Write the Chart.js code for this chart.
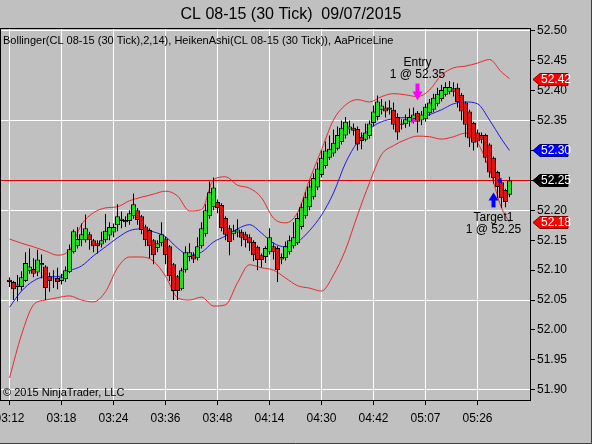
<!DOCTYPE html>
<html>
<head>
<meta charset="utf-8">
<script src="https://cdn.jsdelivr.net/npm/chart.js@4.4.0/dist/chart.umd.min.js"></script>
<style>
  html, body { margin: 0; padding: 0; background: #c0c0c0; }
  #wrap { width: 592px; height: 444px; }
</style>
</head>
<body>
<div id="wrap"><canvas id="chart" width="592" height="444"></canvas></div>
<script>
// Heiken Ashi bars (CL 08-15, 30 tick)
const barOpen = [
  52.084, 52.080, 52.072, 52.072, 52.082, 52.098, 52.102, 52.096, 52.108, 52.106,
  52.090, 52.086, 52.087, 52.082, 52.085, 52.097, 52.130, 52.140, 52.150, 52.150,
  52.160, 52.150, 52.145, 52.143, 52.150, 52.158, 52.163, 52.175, 52.182, 52.184,
  52.182, 52.190, 52.200, 52.190, 52.173, 52.167, 52.150, 52.137, 52.145, 52.153,
  52.140, 52.110, 52.090, 52.068, 52.100, 52.122, 52.125, 52.120, 52.140, 52.160,
  52.190, 52.205, 52.214, 52.209, 52.187, 52.170, 52.160, 52.163, 52.164, 52.160,
  52.155, 52.147, 52.139, 52.125, 52.122, 52.130, 52.140, 52.137, 52.118, 52.120,
  52.130, 52.140, 52.145, 52.172, 52.190, 52.205, 52.222, 52.238, 52.259, 52.274,
  52.288, 52.295, 52.303, 52.314, 52.325, 52.335, 52.338, 52.336, 52.323, 52.318,
  52.324, 52.346, 52.356, 52.368, 52.372, 52.368, 52.368, 52.356, 52.343, 52.344,
  52.348, 52.352, 52.363, 52.350, 52.352, 52.362, 52.368, 52.378, 52.386, 52.393,
  52.398, 52.404, 52.405, 52.393, 52.380, 52.365, 52.346, 52.330, 52.326, 52.326,
  52.310, 52.288, 52.264, 52.247, 52.234, 52.226
];
const barClose = [
  52.080, 52.068, 52.076, 52.088, 52.112, 52.106, 52.094, 52.118, 52.112, 52.070,
  52.082, 52.085, 52.080, 52.088, 52.100, 52.135, 52.165, 52.152, 52.160, 52.170,
  52.150, 52.140, 52.140, 52.150, 52.166, 52.172, 52.172, 52.190, 52.186, 52.180,
  52.195, 52.210, 52.184, 52.167, 52.150, 52.140, 52.125, 52.145, 52.160, 52.125,
  52.090, 52.065, 52.065, 52.100, 52.130, 52.130, 52.118, 52.140, 52.170, 52.200,
  52.230, 52.238, 52.204, 52.170, 52.159, 52.147, 52.166, 52.168, 52.154, 52.150,
  52.145, 52.125, 52.117, 52.117, 52.137, 52.155, 52.130, 52.100, 52.122, 52.140,
  52.150, 52.155, 52.187, 52.205, 52.222, 52.240, 52.254, 52.270, 52.288, 52.300,
  52.303, 52.313, 52.326, 52.338, 52.348, 52.340, 52.333, 52.310, 52.316, 52.330,
  52.345, 52.365, 52.382, 52.375, 52.365, 52.372, 52.343, 52.330, 52.345, 52.352,
  52.356, 52.360, 52.348, 52.360, 52.373, 52.380, 52.388, 52.395, 52.401, 52.406,
  52.406, 52.398, 52.381, 52.365, 52.343, 52.320, 52.313, 52.315, 52.318, 52.288,
  52.263, 52.254, 52.239, 52.220, 52.214, 52.250
];
const barHigh = [
  52.088, 52.082, 52.092, 52.098, 52.130, 52.136, 52.120, 52.134, 52.126, 52.108,
  52.096, 52.100, 52.104, 52.094, 52.106, 52.143, 52.168, 52.172, 52.178, 52.193,
  52.164, 52.152, 52.150, 52.164, 52.194, 52.180, 52.178, 52.210, 52.198, 52.190,
  52.200, 52.228, 52.204, 52.192, 52.176, 52.170, 52.152, 52.150, 52.180, 52.156,
  52.142, 52.112, 52.092, 52.104, 52.140, 52.145, 52.130, 52.155, 52.180, 52.210,
  52.248, 52.255, 52.218, 52.212, 52.190, 52.175, 52.176, 52.185, 52.168, 52.164,
  52.160, 52.150, 52.141, 52.128, 52.140, 52.170, 52.146, 52.140, 52.128, 52.148,
  52.158, 52.180, 52.195, 52.212, 52.230, 52.250, 52.262, 52.280, 52.300, 52.315,
  52.325, 52.335, 52.340, 52.350, 52.356, 52.350, 52.345, 52.340, 52.330, 52.345,
  52.350, 52.375, 52.392, 52.386, 52.382, 52.384, 52.380, 52.362, 52.352, 52.360,
  52.370, 52.372, 52.366, 52.366, 52.378, 52.386, 52.395, 52.405, 52.410, 52.414,
  52.416, 52.414, 52.412, 52.396, 52.382, 52.368, 52.348, 52.335, 52.330, 52.328,
  52.312, 52.290, 52.266, 52.250, 52.236, 52.256
];
const barLow = [
  52.072, 52.050, 52.048, 52.066, 52.080, 52.094, 52.088, 52.090, 52.086, 52.050,
  52.064, 52.070, 52.068, 52.076, 52.080, 52.095, 52.128, 52.136, 52.140, 52.146,
  52.134, 52.130, 52.128, 52.138, 52.146, 52.150, 52.155, 52.165, 52.170, 52.172,
  52.176, 52.186, 52.176, 52.160, 52.140, 52.120, 52.110, 52.130, 52.140, 52.110,
  52.082, 52.050, 52.050, 52.066, 52.096, 52.115, 52.112, 52.116, 52.136, 52.156,
  52.186, 52.200, 52.195, 52.165, 52.150, 52.125, 52.150, 52.155, 52.140, 52.138,
  52.132, 52.115, 52.100, 52.105, 52.112, 52.126, 52.118, 52.080, 52.110, 52.116,
  52.126, 52.136, 52.142, 52.168, 52.186, 52.200, 52.218, 52.234, 52.255, 52.270,
  52.284, 52.290, 52.300, 52.310, 52.320, 52.328, 52.325, 52.300, 52.302, 52.315,
  52.320, 52.340, 52.350, 52.360, 52.355, 52.360, 52.335, 52.318, 52.335, 52.338,
  52.340, 52.345, 52.330, 52.342, 52.348, 52.358, 52.364, 52.374, 52.382, 52.390,
  52.394, 52.390, 52.372, 52.350, 52.322, 52.306, 52.300, 52.305, 52.312, 52.280,
  52.255, 52.245, 52.220, 52.204, 52.205, 52.222
];

// Bollinger(2,14) read at every third bar
const bandBars = [0, 3, 6, 9, 12, 15, 18, 21, 24, 27, 30, 33, 36, 39, 42, 45, 48, 51, 54, 57,
  60, 63, 66, 69, 72, 75, 78, 81, 84, 87, 90, 93, 96, 99, 102, 105, 108, 111, 114, 117, 120, 123, 125];
const bandUpper = [52.152, 52.145, 52.139, 52.132, 52.125, 52.134, 52.176, 52.196, 52.204, 52.206,
  52.216, 52.222, 52.227, 52.232, 52.224, 52.199, 52.201, 52.251, 52.256, 52.242,
  52.237, 52.221, 52.187, 52.179, 52.196, 52.251, 52.301, 52.351, 52.376, 52.385,
  52.381, 52.390, 52.395, 52.393, 52.390, 52.401, 52.426, 52.438, 52.441, 52.446,
  52.452, 52.431, 52.420];
const bandMiddle = [52.038, 52.065, 52.082, 52.089, 52.089, 52.099, 52.107, 52.124, 52.139, 52.154,
  52.166, 52.169, 52.164, 52.156, 52.137, 52.125, 52.130, 52.147, 52.157, 52.169,
  52.176, 52.162, 52.145, 52.139, 52.147, 52.166, 52.192, 52.229, 52.279, 52.314,
  52.336, 52.348, 52.353, 52.355, 52.353, 52.360, 52.368, 52.378, 52.381, 52.378,
  52.351, 52.319, 52.300];
const bandLower = [51.920, 51.992, 52.042, 52.050, 52.054, 52.057, 52.050, 52.047, 52.064, 52.104,
  52.122, 52.122, 52.115, 52.090, 52.054, 52.050, 52.055, 52.040, 52.042, 52.079,
  52.109, 52.104, 52.100, 52.087, 52.074, 52.070, 52.065, 52.092, 52.134, 52.192,
  52.246, 52.293, 52.308, 52.318, 52.324, 52.323, 52.319, 52.323, 52.329, 52.313,
  52.268, 52.204, 52.180];

// axis labels
const timeLabels = ['03:12', '03:18', '03:24', '03:36', '03:48', '04:14', '04:30', '04:42', '05:07', '05:26'];
const timeBars = [0, 13, 26, 39, 52, 65, 78, 91, 104, 117];
const priceTicks = [51.90, 51.95, 52.00, 52.05, 52.10, 52.15, 52.20, 52.25, 52.30, 52.35, 52.40, 52.45, 52.50];
const priceGrid = [51.90, 52.05, 52.20, 52.35, 52.50];

// executions
const entryMark = { bar: 102, price: 52.35, name: 'Entry', fill: '1 @ 52.35' };
const targetMark = { bar: 121, price: 52.25, name: 'Target1', fill: '1 @ 52.25' };

const FONT = "'Liberation Sans', Arial, sans-serif";
const UP = '#1ee21e';
const DOWN = '#dc1414';

const barIdx = barOpen.map((v, i) => i);

function bandData(vals) {
    return bandBars.map((b, i) => ({ x: b, y: vals[i] }));
}

const ninjaExtras = {
    id: 'ninjaExtras',
    beforeDraw(chart) {
        const ctx = chart.ctx;
        ctx.save();
        ctx.fillStyle = '#c0c0c0';
        ctx.fillRect(0, 0, chart.width, chart.height);
        ctx.restore();
    },
    beforeDatasetsDraw(chart) {
        // price line at last close
        const ctx = chart.ctx, a = chart.chartArea;
        const y = Math.round(chart.scales.y.getPixelForValue(barClose[barClose.length - 1])) + 0.5;
        ctx.save();
        ctx.strokeStyle = '#d80000';
        ctx.lineWidth = 1;
        ctx.beginPath();
        ctx.moveTo(a.left, y);
        ctx.lineTo(a.right, y);
        ctx.stroke();
        ctx.restore();
    },
    afterDraw(chart) {
        const ctx = chart.ctx, a = chart.chartArea;
        const xs = chart.scales.x, ys = chart.scales.y;
        ctx.save();

        // frame
        ctx.strokeStyle = '#000';
        ctx.lineWidth = 1;
        ctx.strokeRect(a.left - 0.5, a.top - 0.5, a.right - a.left + 1, a.bottom - a.top + 1);
        ctx.strokeStyle = '#404040';
        ctx.beginPath();
        ctx.moveTo(chart.width - 0.5, 0);
        ctx.lineTo(chart.width - 0.5, chart.height - 0.5);
        ctx.lineTo(0, chart.height - 0.5);
        ctx.stroke();

        // texts
        ctx.fillStyle = '#000';
        ctx.textBaseline = 'middle';
        ctx.textAlign = 'center';
        ctx.font = '16px ' + FONT;
        ctx.fillText('CL 08-15 (30 Tick)  09/07/2015', 291, 15);
        ctx.textAlign = 'left';
        ctx.font = '11px ' + FONT;
        ctx.fillText('Bollinger(CL 08-15 (30 Tick),2,14), HeikenAshi(CL 08-15 (30 Tick)), AaPriceLine', a.left + 2, a.top + 12);
        ctx.fillText('\u00A9 2015 NinjaTrader, LLC', a.left + 2, a.bottom - 7);

        // entry marker
        let bx = xs.getPixelForValue(entryMark.bar), py = ys.getPixelForValue(entryMark.price);
        ctx.fillStyle = '#ff00ff';
        ctx.fillRect(bx - 2, py - 37, 4, 9);
        ctx.beginPath();
        ctx.moveTo(bx - 5, py - 29);
        ctx.lineTo(bx + 5, py - 29);
        ctx.lineTo(bx, py - 20);
        ctx.closePath();
        ctx.fill();
        ctx.beginPath();
        ctx.moveTo(bx - 6, py - 3);
        ctx.lineTo(bx - 1, py);
        ctx.lineTo(bx - 6, py + 3);
        ctx.closePath();
        ctx.fill();
        ctx.fillStyle = '#000';
        ctx.textAlign = 'center';
        ctx.font = '12px ' + FONT;
        ctx.fillText(entryMark.name, bx, py - 58);
        ctx.fillText(entryMark.fill, bx, py - 46);

        // target marker
        bx = xs.getPixelForValue(targetMark.bar);
        py = ys.getPixelForValue(targetMark.price);
        ctx.fillStyle = '#0000ff';
        ctx.beginPath();
        ctx.moveTo(bx, py + 12);
        ctx.lineTo(bx + 5, py + 20);
        ctx.lineTo(bx - 5, py + 20);
        ctx.closePath();
        ctx.fill();
        ctx.fillRect(bx - 2, py + 19, 4, 8);
        ctx.beginPath();
        ctx.moveTo(bx + 8, py - 3);
        ctx.lineTo(bx + 3, py);
        ctx.lineTo(bx + 8, py + 3);
        ctx.closePath();
        ctx.fill();
        ctx.fillStyle = '#000';
        ctx.fillText(targetMark.name, bx, py + 37);
        ctx.fillText(targetMark.fill, bx, py + 49);

        // price tags on the axis
        const tags = [
            [bandUpper[bandUpper.length - 1], '#ff0000', '#800000'],
            [bandMiddle[bandMiddle.length - 1], '#0000ff', '#000080'],
            [barClose[barClose.length - 1], '#000000', '#000000'],
            [bandLower[bandLower.length - 1], '#ff0000', '#800000']
        ];
        ctx.font = '12px ' + FONT;
        ctx.textAlign = 'left';
        tags.forEach(([v, fill, edge]) => {
            const y = Math.round(ys.getPixelForValue(v)) + 0.5;
            const x0 = a.right + 3;
            ctx.beginPath();
            ctx.moveTo(x0, y);
            ctx.lineTo(x0 + 7, y - 6);
            ctx.lineTo(x0 + 35, y - 6);
            ctx.lineTo(x0 + 35, y + 6);
            ctx.lineTo(x0 + 7, y + 6);
            ctx.closePath();
            ctx.fillStyle = fill;
            ctx.fill();
            ctx.strokeStyle = edge;
            ctx.stroke();
            ctx.fillStyle = '#fff';
            ctx.fillText(v.toFixed(2), x0 + 8, y + 0.5);
        });
        ctx.restore();
    }
};

new Chart(document.getElementById('chart'), {
    type: 'bar',
    data: {
        datasets: [
            {
                label: 'HA body',
                data: barIdx.map(i => ({ x: i, y: [barOpen[i], barClose[i]] })),
                backgroundColor: barIdx.map(i => barClose[i] >= barOpen[i] ? UP : DOWN),
                borderColor: '#000',
                borderWidth: 1,
                borderSkipped: false,
                barThickness: 5,
                inflateAmount: 0,
                grouped: false,
                order: 0
            },
            {
                label: 'HA wick',
                data: barIdx.map(i => ({ x: i, y: [barLow[i], barHigh[i]] })),
                backgroundColor: '#000',
                borderWidth: 0,
                barThickness: 1,
                inflateAmount: 0,
                grouped: false,
                order: 1
            },
            {
                type: 'line', label: 'Upper', data: bandData(bandUpper),
                borderColor: '#e8282c', borderWidth: 1, pointRadius: 0,
                cubicInterpolationMode: 'monotone', order: 2
            },
            {
                type: 'line', label: 'Middle', data: bandData(bandMiddle),
                borderColor: '#1c1ce0', borderWidth: 1, pointRadius: 0,
                cubicInterpolationMode: 'monotone', order: 2
            },
            {
                type: 'line', label: 'Lower', data: bandData(bandLower),
                borderColor: '#e8282c', borderWidth: 1, pointRadius: 0,
                cubicInterpolationMode: 'monotone', order: 2
            }
        ]
    },
    options: {
        responsive: false,
        animation: false,
        events: [],
        layout: { padding: { top: 29, left: 1, right: 0, bottom: 0 } },
        plugins: {
            legend: { display: false },
            tooltip: { enabled: false },
            title: { display: false }
        },
        scales: {
            x: {
                type: 'linear',
                offset: false,
                bounds: 'data',
                min: -2.125,
                max: 130.125,
                afterBuildTicks: s => { s.ticks = timeBars.map(v => ({ value: v })); },
                afterFit: s => { s.height = 44; s.paddingLeft = 0; s.paddingRight = 0; },
                grid: { color: '#ffffff', tickColor: '#000', tickLength: 5, lineWidth: 1, offset: false },
                border: { display: false },
                ticks: {
                    autoSkip: false,
                    maxRotation: 0,
                    padding: 6,
                    color: '#000',
                    font: { family: FONT, size: 12 },
                    callback: (v, i) => timeLabels[i]
                }
            },
            y: {
                position: 'right',
                min: 51.883,
                max: 52.503,
                afterBuildTicks: s => { s.ticks = priceTicks.map(v => ({ value: v })); },
                afterFit: s => { s.width = 62; s.paddingTop = 0; s.paddingBottom = 0; },
                grid: {
                    color: c => priceGrid.some(v => Math.abs(v - c.tick.value) < 1e-6) ? '#ffffff' : 'rgba(0,0,0,0)',
                    tickColor: '#000',
                    tickLength: 5
                },
                border: { display: false },
                ticks: {
                    padding: 2,
                    color: '#000',
                    font: { family: FONT, size: 12 },
                    callback: v => v.toFixed(2)
                }
            }
        }
    },
    plugins: [ninjaExtras]
});
</script>
</body>
</html>
